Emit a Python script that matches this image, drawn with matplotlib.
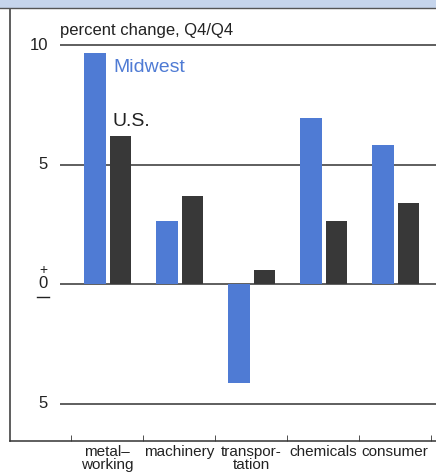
import numpy as np
import matplotlib.pyplot as plt
from matplotlib.patches import Rectangle

plt.rcParams['font.family'] = ['Liberation Sans', 'DejaVu Sans']

# data
categories = ['metal–\nworking', 'machinery', 'transpor-\ntation', 'chemicals', 'consumer']
midwest = [9.65, 2.65, -4.15, 6.95, 5.8]
us = [6.2, 3.7, 0.58, 2.65, 3.4]
grid_vals = [10, 5, 0, -5]
grid_labels = ['10', '5', '0', '5']

blue = '#4f7bd4'
dark = '#383838'

W, H = 436, 472
fig = plt.figure(figsize=(W / 100, H / 100), dpi=100)

# pixel frame: left spine x=10, bottom spine y=441, zero at y=284, 23.9 px per unit
px_unit = 23.9
y0_px = 284
x0_px, xstep = 107, 72
left_px, bottom_px, right_px, top_px = 10, 441, 436, 8
ymin = (y0_px - bottom_px) / px_unit
ymax = (y0_px - top_px) / px_unit
xmin = (left_px - x0_px) / xstep
xmax = (right_px - x0_px) / xstep

ax = fig.add_axes([left_px / W, (H - bottom_px) / H, (right_px - left_px) / W, (bottom_px - top_px) / H])
ax.set_xlim(xmin, xmax)
ax.set_ylim(ymin, ymax)

x = np.arange(len(categories))
w = 0.3
ax.hlines(grid_vals, (60 - x0_px) / xstep, xmax, color='#333333', lw=1.1, zorder=1)
ax.bar(x - 0.165, midwest, w, color=blue, zorder=2)
ax.bar(x + 0.19, us, w, color=dark, zorder=2)

for v, lab in zip(grid_vals, grid_labels):
    if v == 0:
        continue
    ax.text((48 - x0_px) / xstep, v, lab, ha='right', va='center', fontsize=12, color='#222222')
# the zero label with plus / minus marks
zx = (43 - x0_px) / xstep
ax.text(zx, 0, '0', ha='center', va='center', fontsize=12, color='#222222')
ax.text(zx, 0.6, '+', ha='center', va='center', fontsize=10, color='#222222')
ax.plot([zx - 0.09, zx + 0.09], [-0.55, -0.55], color='#222222', lw=1)

ax.text((60 - x0_px) / xstep, (y0_px - 30) / px_unit, 'percent change, Q4/Q4',
        ha='left', va='center', fontsize=12, color='#222222')
ax.text((113 - x0_px) / xstep, (y0_px - 68) / px_unit, 'Midwest',
        ha='left', va='center', fontsize=14, color=blue)
ax.text((112 - x0_px) / xstep, (y0_px - 121) / px_unit, 'U.S.',
        ha='left', va='center', fontsize=14, color='#222222')

for s in ['top', 'right']:
    ax.spines[s].set_visible(False)
ax.spines['left'].set_color('#333333')
ax.spines['bottom'].set_color('#333333')
ax.spines['left'].set_linewidth(1.1)
ax.spines['bottom'].set_linewidth(1.1)

ax.set_yticks([])
ax.set_xticks(np.arange(len(categories) + 1) - 0.5, minor=True)
ax.tick_params(axis='x', which='minor', direction='in', length=4, color='#333333')
ax.set_xticks(x)
ax.set_xticklabels(categories, fontsize=11, color='#222222', linespacing=0.85)
ax.tick_params(axis='x', which='major', length=0, pad=3)

# light blue strip across the top
fig.patches.append(Rectangle((0, (H - top_px) / H), 1, top_px / H, transform=fig.transFigure,
                             facecolor='#c6d5ec', edgecolor='none', hatch='....', zorder=0))
fig.add_artist(plt.Line2D([0, 1], [(H - top_px) / H] * 2, color='#555555', lw=1))

fig.savefig('out.png', dpi=100)
